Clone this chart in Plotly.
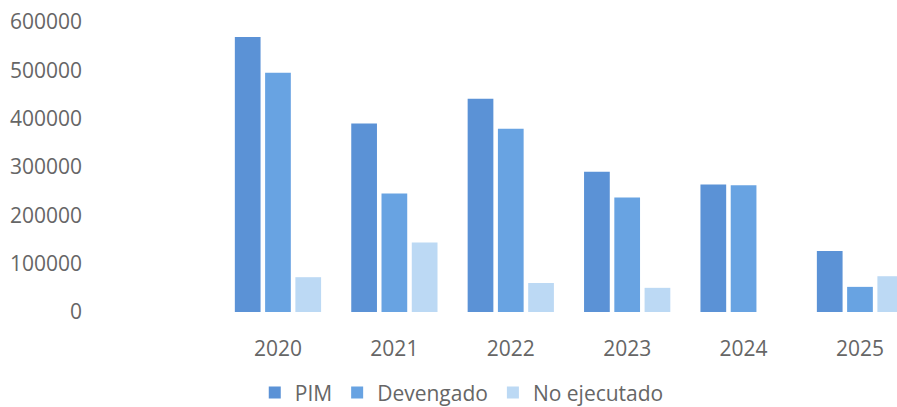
import plotly.graph_objects as go

years = ["2020", "2021", "2022", "2023", "2024", "2025"]
pim = [569000, 390000, 441000, 290000, 264000, 126000]
devengado = [495000, 245000, 379000, 237000, 262000, 52000]
no_ejecutado = [72000, 144000, 60000, 50000, 0, 74000]

series_names = ["PIM", "Devengado", "No ejecutado"]
colors = ["#5b92d6", "#68a3e2", "#bcd9f4"]

fig = go.Figure()
for name, vals, col in zip(series_names, [pim, devengado, no_ejecutado], colors):
    fig.add_trace(go.Bar(x=years, y=vals, name=name, marker=dict(color=col, line=dict(width=0))))

fig.update_layout(
    width=897, height=407,
    margin=dict(l=88, r=0, t=22, b=95, autoexpand=False),
    paper_bgcolor="white", plot_bgcolor="white",
    barmode="group", bargap=0.22, bargroupgap=0.15,
    font=dict(family="Open Sans", color="#666666", size=21),
    showlegend=True,
    legend=dict(orientation="h", x=0.462, xanchor="center", y=-0.279, yanchor="middle",
                font=dict(size=21, color="#666666"), itemwidth=30, traceorder="normal"),
    xaxis=dict(range=[-1.632, 5.318], showgrid=False, showline=False, ticks="",
               tickfont=dict(size=21), ticklabelstandoff=22, automargin=False),
    yaxis=dict(range=[0, 600000], dtick=100000, showgrid=False, showline=False,
               zeroline=False, ticks="", tickformat="d", tickfont=dict(size=21),
               ticklabelstandoff=5, automargin=False),
)

fig.write_html("out.html", post_script="document.body.style.margin='0';",
               config={"displayModeBar": False})
